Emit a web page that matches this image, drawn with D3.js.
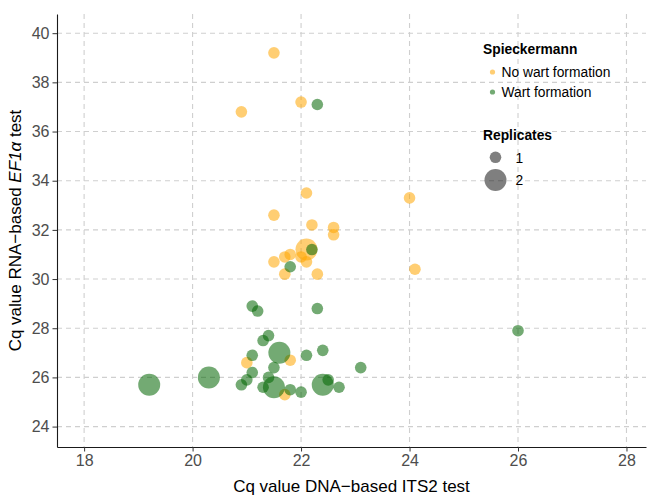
<!DOCTYPE html>
<html>
<head>
<meta charset="utf-8">
<script src="https://cdn.jsdelivr.net/npm/d3@7"></script>
<style>
  html, body { margin: 0; padding: 0; background: #fff; }
  svg { display: block; font-family: "Liberation Sans", Arial, sans-serif; }
</style>
</head>
<body>
<div id="chart"></div>
<script>
/* ---- data -------------------------------------------------------- */
const xTicks = [18, 20, 22, 24, 26, 28];
const yTicks = [24, 26, 28, 30, 32, 34, 36, 38, 40];

const groups     = ['No wart formation', 'Wart formation'];
const groupFill  = ['orange', 'darkgreen'];
const replicates = [1, 2];

// No wart formation
const noWartX   = [21.5, 20.9, 22.0, 22.1, 24.0, 21.5, 22.2, 22.6, 22.6, 22.1, 21.7, 21.8, 22.0, 22.1, 21.5, 21.7, 22.3, 24.1, 21.0, 21.8, 21.7];
const noWartY   = [39.2, 36.8, 37.2, 33.5, 33.3, 32.6, 32.2, 32.1, 31.8, 31.2, 30.9, 31.0, 30.9, 30.7, 30.7, 30.2, 30.2, 30.4, 26.6, 26.7, 25.3];
const noWartRep = [1, 1, 1, 1, 1, 1, 1, 1, 1, 2, 1, 1, 1, 1, 1, 1, 1, 1, 1, 1, 1];

// Wart formation
const wartX   = [22.3, 22.2, 21.8, 21.1, 21.2, 22.3, 21.4, 21.3, 21.6, 22.4, 22.1, 21.1, 21.5, 23.1, 26.0, 20.3, 19.2, 21.1, 21.0, 20.9, 21.4, 21.3, 21.5, 21.8, 22.0, 22.4, 22.5, 22.7];
const wartY   = [37.1, 31.2, 30.5, 28.9, 28.7, 28.8, 27.7, 27.5, 27.0, 27.1, 26.9, 26.9, 26.4, 26.4, 27.9, 26.0, 25.7, 26.2, 25.9, 25.7, 26.0, 25.6, 25.6, 25.5, 25.4, 25.7, 25.9, 25.6];
const wartRep = [1, 1, 1, 1, 1, 1, 1, 1, 2, 1, 1, 1, 1, 1, 1, 2, 2, 1, 1, 1, 1, 1, 2, 1, 1, 2, 1, 1];

/* ---- layout ------------------------------------------------------ */
const W = 647, H = 496;
const margin = { top: 14, right: 1, bottom: 49, left: 57 };

const svg = d3.select('#chart').append('svg')
  .attr('width', W).attr('height', H);

const x = d3.scaleLinear().domain([17.5, 28.36]).range([margin.left, W - margin.right]);
const y = d3.scaleLinear().domain([23.17, 40.78]).range([H - margin.bottom, margin.top]);
const color = d3.scaleOrdinal().domain(groups).range(groupFill);
const size  = d3.scaleLinear().domain([1, 2]).range([5.8, 11]);

/* ---- grid -------------------------------------------------------- */
const grid = svg.append('g')
  .attr('stroke', '#cfcfcf').attr('stroke-width', 1.1)
  .attr('stroke-dasharray', '5,4');

grid.selectAll('line.gx').data(xTicks).join('line')
  .attr('class', 'gx')
  .attr('x1', d => x(d)).attr('x2', d => x(d))
  .attr('y1', margin.top).attr('y2', H - margin.bottom);

grid.selectAll('line.gy').data(yTicks).join('line')
  .attr('class', 'gy')
  .attr('x1', margin.left).attr('x2', W - margin.right)
  .attr('y1', d => y(d)).attr('y2', d => y(d));

/* ---- points ------------------------------------------------------ */
const rows = [
  ...noWartX.map((v, i) => ({ x: v, y: noWartY[i], rep: noWartRep[i], g: groups[0] })),
  ...wartX.map((v, i)   => ({ x: v, y: wartY[i],   rep: wartRep[i],   g: groups[1] })),
];

svg.append('g').selectAll('circle').data(rows).join('circle')
  .attr('cx', d => x(d.x))
  .attr('cy', d => y(d.y))
  .attr('r',  d => size(d.rep))
  .attr('fill', d => color(d.g))
  .attr('fill-opacity', 0.55);

/* ---- axes -------------------------------------------------------- */
function styleAxis(g) {
  g.select('.domain').attr('stroke', '#1a1a1a').attr('stroke-width', 1.1);
  g.selectAll('.tick line').attr('stroke', '#333').attr('stroke-width', 1);
  g.selectAll('.tick text')
    .attr('fill', '#4d4d4d')
    .style('font-size', '16px')
    .style('font-family', '"Liberation Sans", Arial, sans-serif');
}

svg.append('g')
  .attr('transform', `translate(0,${H - margin.bottom})`)
  .call(d3.axisBottom(x).tickValues(xTicks).tickSize(4.5).tickSizeOuter(0).tickPadding(3))
  .call(styleAxis);

svg.append('g')
  .attr('transform', `translate(${margin.left},0)`)
  .call(d3.axisLeft(y).tickValues(yTicks).tickSize(4.5).tickSizeOuter(0).tickPadding(3))
  .call(styleAxis);

/* ---- axis titles ------------------------------------------------- */
svg.append('text')
  .attr('x', (margin.left + W - margin.right) / 2)
  .attr('y', 492)
  .attr('text-anchor', 'middle')
  .style('font-size', '17px')
  .attr('fill', '#000')
  .text('Cq value DNA\u2212based ITS2 test');

const yt = svg.append('text')
  .attr('transform', `translate(20.5,${(margin.top + H - margin.bottom) / 2}) rotate(-90)`)
  .attr('text-anchor', 'middle')
  .style('font-size', '17px')
  .attr('fill', '#000');
yt.append('tspan').text('Cq value RNA\u2212based ');
yt.append('tspan').style('font-style', 'italic').text('EF1\u03b1');
yt.append('tspan').text(' test');

/* ---- legend ------------------------------------------------------ */
const lg = svg.append('g').style('font-size', '13.8px');

lg.append('text').attr('x', 483).attr('y', 54)
  .style('font-weight', 'bold').text('Spieckermann');

const colItems = lg.selectAll('g.ci').data(groups).join('g')
  .attr('class', 'ci')
  .attr('transform', (d, i) => `translate(0,${72 + i * 20})`);
colItems.append('circle')
  .attr('cx', 492.5).attr('cy', 0).attr('r', 2.6)
  .attr('fill', d => color(d)).attr('fill-opacity', 0.55);
colItems.append('text')
  .attr('x', 501.5).attr('y', 4.8).text(d => d);

lg.append('text').attr('x', 483).attr('y', 139.5)
  .style('font-weight', 'bold').text('Replicates');

const repY = [157.3, 180];
const sizeItems = lg.selectAll('g.si').data(replicates).join('g')
  .attr('class', 'si')
  .attr('transform', (d, i) => `translate(0,${repY[i]})`);
sizeItems.append('circle')
  .attr('cx', 495.5).attr('cy', 0)
  .attr('r', d => size(d))
  .attr('fill', '#000').attr('fill-opacity', 0.5);
sizeItems.append('text')
  .attr('x', 515.5).attr('y', 5.2).text(d => d);
</script>
</body>
</html>
